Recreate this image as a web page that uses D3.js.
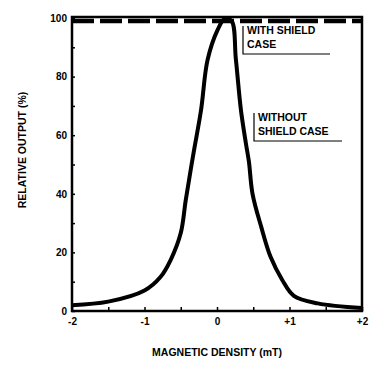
<!DOCTYPE html>
<html lang="en">
<head>
  <meta charset="UTF-8">
  <title>Relative output vs magnetic density</title>
  <style>
    body { margin: 0; background: #fff; font-family: "Liberation Sans", Arial, sans-serif; }
  </style>
  <script src="https://cdn.jsdelivr.net/npm/d3@7"></script>
</head>
<body>
  <script>
    // curve without shield case (mT, %)
    var densityMT = [-2, -1.5, -1, -0.78, -0.64, -0.5, -0.43, -0.33, -0.22, -0.13, 0.01, 0.1, 0.2, 0.26, 0.33, 0.4, 0.44, 0.49, 0.61, 0.74, 0.9, 1.06, 1.39, 2];
    var outputPct = [2, 3.2, 7, 11.6, 17.4, 26.6, 38, 53, 68.6, 85.7, 96, 99.5, 99, 86, 68.6, 57, 51, 40, 28.7, 18.4, 10.6, 5.2, 2.6, 1];
    // curve with shield case stays flat
    var shieldMT = [-2, 2];
    var shieldPct = [99, 99];

    var xTicks = [-2, -1, 0, 1, 2];
    var xTickLabels = ["-2", "-1", "0", "+1", "+2"];
    var yTicks = [0, 20, 40, 60, 80, 100];

    var W = 371, H = 368;
    var plotL = 72, plotR = 362, plotT = 18, plotB = 311;

    var svg = d3.select("body").append("svg").attr("width", W).attr("height", H);

    var x = d3.scaleLinear().domain([-2, 2]).range([plotL, plotR]);
    var y = d3.scaleLinear().domain([0, 100]).range([plotB, plotT]);

    // x axis with inward ticks every 0.5
    var xAxis = svg.append("g")
      .attr("transform", "translate(0," + plotB + ")")
      .call(d3.axisBottom(x).tickValues(d3.range(-2, 2.01, 0.5)).tickSize(-4).tickPadding(7)
        .tickFormat(function(d) { var i = xTicks.indexOf(d); return i < 0 ? "" : xTickLabels[i]; }));
    xAxis.select(".domain").remove();
    xAxis.selectAll("line").attr("stroke", "#000").attr("stroke-width", 1.5);
    xAxis.selectAll("text").attr("font-size", 10).attr("font-weight", "bold").attr("fill", "#000");

    var yAxis = svg.append("g")
      .attr("transform", "translate(" + plotL + ",0)")
      .call(d3.axisLeft(y).tickValues(d3.range(0, 101, 10)).tickSize(-3).tickPadding(5)
        .tickFormat(function(d) { return yTicks.indexOf(d) < 0 ? "" : d; }));
    yAxis.select(".domain").remove();
    yAxis.selectAll("line").attr("stroke", "#000").attr("stroke-width", 1.5);
    yAxis.selectAll("text").attr("font-size", 10).attr("font-weight", "bold").attr("fill", "#000");

    // frame
    svg.append("rect")
      .attr("x", plotL).attr("y", plotT - 1)
      .attr("width", plotR - plotL).attr("height", plotB - plotT + 1)
      .attr("fill", "none").attr("stroke", "#000").attr("stroke-width", 2.5);

    // with shield case (dashed thick line near 100%)
    svg.append("path")
      .datum(shieldMT.map(function(d, i) { return [d, shieldPct[i]]; }))
      .attr("fill", "none").attr("stroke", "#000").attr("stroke-width", 4.5)
      .attr("stroke-dasharray", "22,6")
      .attr("d", d3.line().x(function(d) { return x(d[0]); }).y(function(d) { return y(d[1]); }));

    // without shield case
    svg.append("path")
      .datum(densityMT.map(function(d, i) { return [d, outputPct[i]]; }))
      .attr("fill", "none").attr("stroke", "#000").attr("stroke-width", 4)
      .attr("stroke-linejoin", "round")
      .attr("d", d3.line().curve(d3.curveCatmullRom.alpha(0.5))
        .x(function(d) { return x(d[0]); }).y(function(d) { return y(d[1]); }));

    // labels with leader marks
    function callout(tx, ty, lines, lineEnd) {
      var g = svg.append("g");
      lines.forEach(function(t, i) {
        g.append("text").attr("x", tx).attr("y", ty + i * 14)
          .attr("font-size", 10.5).attr("font-weight", "bold").text(t);
      });
      var uy = ty + (lines.length - 1) * 14 + 6;
      g.append("path")
        .attr("d", "M" + (tx - 4) + "," + (ty - 8) + "V" + uy + "H" + lineEnd)
        .attr("fill", "none").attr("stroke", "#000").attr("stroke-width", 1.2);
    }
    callout(247, 34, ["WITH SHIELD", "CASE"], 330);
    callout(258, 121, ["WITHOUT", "SHIELD CASE"], 342);

    svg.append("text")
      .attr("x", (plotL + plotR) / 2).attr("y", 356)
      .attr("text-anchor", "middle").attr("font-size", 10.5).attr("font-weight", "bold")
      .text("MAGNETIC DENSITY (mT)");

    svg.append("text")
      .attr("transform", "translate(26," + 150 + ")rotate(-90)")
      .attr("text-anchor", "middle").attr("font-size", 10.5).attr("font-weight", "bold")
      .text("RELATIVE OUTPUT (%)");
  </script>
</body>
</html>
